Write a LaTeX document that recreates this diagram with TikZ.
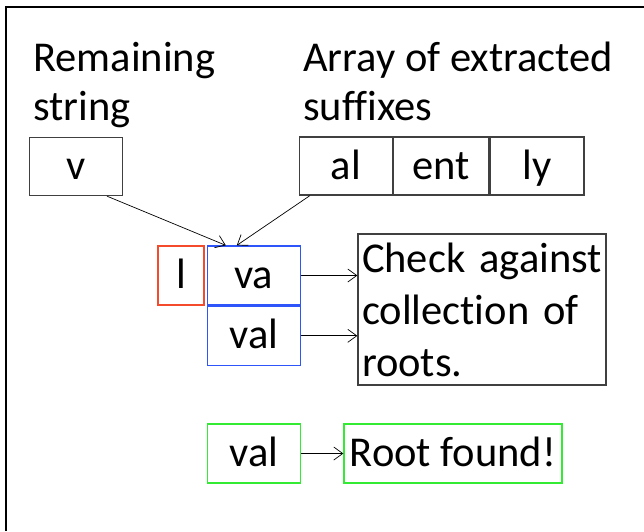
\documentclass[tikz,border=0pt]{standalone}
\usepackage{fontspec}
\setmainfont{Carlito}[Ligatures=NoCommon]
\usetikzlibrary{positioning,arrows.meta}
\tikzset{>={Straight Barb[length=9pt,width=13pt]}}
\definecolor{cellgray}{RGB}{64,64,64}
\definecolor{redbox}{RGB}{245,75,45}
\definecolor{bluebox}{RGB}{45,85,250}
\definecolor{greenbox}{RGB}{50,235,50}

\begin{document}
\begin{tikzpicture}[x=1pt,y=-1pt,
    cell/.style={draw=cellgray, line width=1.3pt, minimum width=93pt, minimum height=58pt,
      inner sep=0pt, text height=30pt, text depth=4pt, font=\fontsize{42.5}{50}\selectfont},
    heading/.style={anchor=base west, align=left, inner sep=0pt, font=\fontsize{42.5}{49}\selectfont},
    link/.style={->, line width=0.7pt}]
    \useasboundingbox (0,0) rectangle (644,531);
    \draw[line width=1.5pt] (6,531) -- (6,7) -- (644,7);
  % headings
    \node[heading] (remain) at (33,120) {Remaining\\string};
    \node[heading] (array) at (303,120) {Array of extracted\\suffixes};
  % input cells
    \node[cell] (v) at (76,166.5) {v};
    \node[cell] (al) at (346,166) {al};
    \node[cell, right=0pt of al, minimum width=95pt] (ent) {ent};
    \node[cell, right=0pt of ent, minimum width=94pt] (ly) {ly};
  % combined candidates
    \node[cell, draw=redbox, minimum width=46pt, minimum height=59pt] (l) at (181,275.5) {l};
    \node[cell, draw=bluebox, minimum height=59pt, right=2pt of l] (va) {va};
    \node[cell, draw=bluebox, minimum height=59pt, below=0pt of va] (val) {val};
    \node[cell, align=left, text width=240pt, minimum height=151pt, inner xsep=4pt,
      text height=, text depth=, font=\fontsize{42.5}{52}\selectfont] (check) at (482,309.5)
      {Check against\\collection of\\roots.};
  % result
    \node[cell, draw=greenbox, minimum height=59pt] (gval) at (254,453.5) {val};
    \node[cell, draw=greenbox, minimum width=218pt, minimum height=59pt] (root) at (453,453.5) {Root found!};
  % connectors
    \draw[link] ([xshift=31pt]v.south) -- ([xshift=-28pt]va.north);
    \draw[link] ([xshift=11pt]al.south west) -- ([xshift=-17pt]va.north);
    \draw[link] (va.east) -- (va.east -| check.west);
    \draw[link] (val.east) -- (val.east -| check.west);
    \draw[link] (gval) -- (root);
\end{tikzpicture}
\end{document}
